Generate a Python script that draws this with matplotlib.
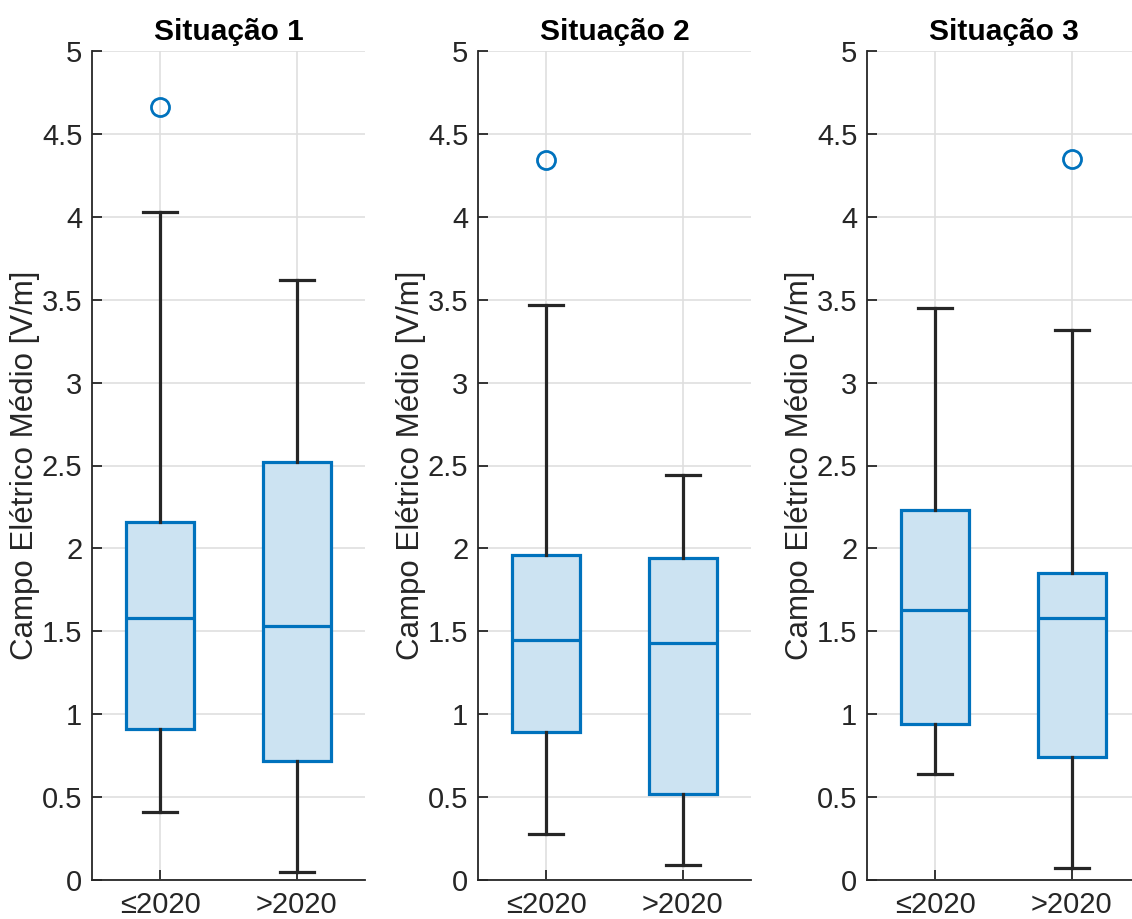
import matplotlib.pyplot as plt

plt.rcParams['font.family'] = ['Liberation Sans', 'DejaVu Sans']

categorias = ['≤2020', '>2020']
titulos = ['Situação 1', 'Situação 2', 'Situação 3']

# stats per situation: [<=2020, >2020]
q1 = [[0.91, 0.72], [0.89, 0.52], [0.94, 0.74]]
mediana = [[1.58, 1.53], [1.45, 1.43], [1.63, 1.58]]
q3 = [[2.16, 2.52], [1.96, 1.94], [2.23, 1.85]]
whisk_lo = [[0.41, 0.05], [0.28, 0.09], [0.64, 0.07]]
whisk_hi = [[4.03, 3.62], [3.47, 2.44], [3.45, 3.32]]
outliers = [[[4.66], []], [[4.34], []], [[], [4.35]]]

azul = '#0072BD'
fundo = '#CCE3F2'
escuro = '#262626'

fig = plt.figure(figsize=(11.32, 9.19), dpi=100)
lefts = [92, 478, 867]

for i in range(3):
    ax = fig.add_axes([lefts[i] / 1132, 39 / 919, 273 / 1132, 829 / 919])
    stats = []
    for j in range(2):
        stats.append({'med': mediana[i][j], 'q1': q1[i][j], 'q3': q3[i][j],
                      'whislo': whisk_lo[i][j], 'whishi': whisk_hi[i][j],
                      'fliers': outliers[i][j], 'label': categorias[j]})
    ax.bxp(stats, positions=[1, 2], widths=0.5, patch_artist=True,
           boxprops=dict(facecolor=fundo, edgecolor=azul, linewidth=2.3),
           medianprops=dict(color=azul, linewidth=2.3),
           whiskerprops=dict(color=escuro, linewidth=2.3),
           capprops=dict(color=escuro, linewidth=2.3),
           capwidths=0.25,
           flierprops=dict(marker='o', markerfacecolor='none', markeredgecolor=azul,
                           markersize=13, markeredgewidth=2),
           zorder=3)
    ax.set_xlim(0.5, 2.5)
    ax.set_ylim(0, 5)
    ax.set_yticks([0, 0.5, 1, 1.5, 2, 2.5, 3, 3.5, 4, 4.5, 5])
    ax.set_yticklabels(['0', '0.5', '1', '1.5', '2', '2.5', '3', '3.5', '4', '4.5', '5'])
    ax.set_xticks([1, 2])
    ax.set_xticklabels(categorias)
    ax.grid(True, color='#DFDFDF', linewidth=1.2, zorder=0)
    ax.set_axisbelow(True)
    for s in ['top', 'right']:
        ax.spines[s].set_visible(False)
    for s in ['left', 'bottom']:
        ax.spines[s].set_color(escuro)
        ax.spines[s].set_linewidth(1.3)
    ax.tick_params(direction='in', length=7, width=1.3, colors=escuro,
                   labelsize=21, pad=7)
    ax.tick_params(axis='x', pad=8)
    ax.set_ylabel('Campo Elétrico Médio [V/m]', fontsize=22.5, color=escuro, labelpad=1)
    ax.set_title(titulos[i], fontsize=21.5, fontweight='bold', pad=8)

fig.savefig('out.png', dpi=100)
